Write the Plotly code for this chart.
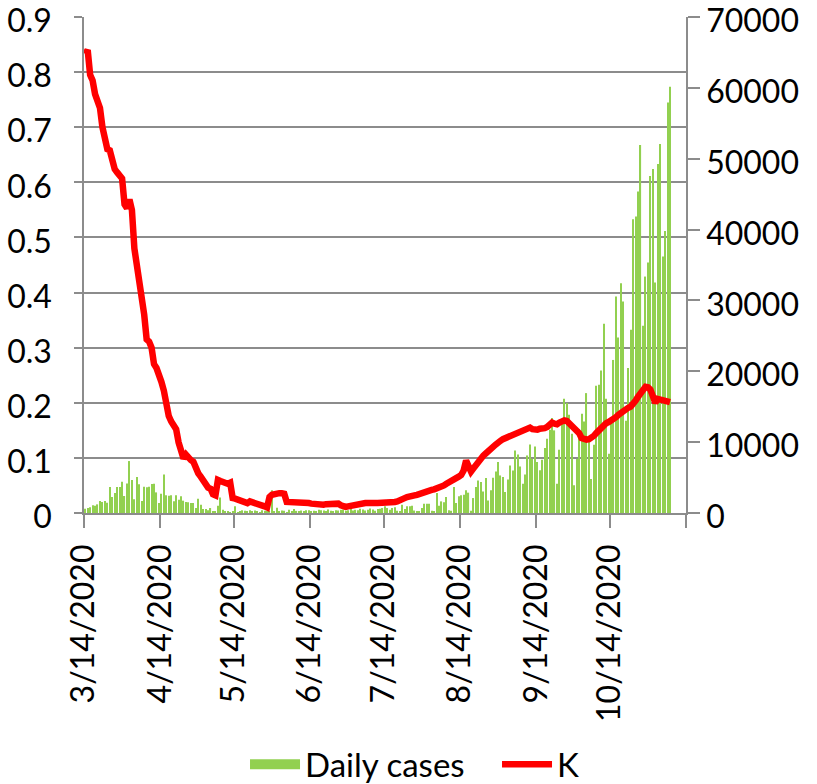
import pandas as pd
import plotly.graph_objects as go

start_date = "2020-03-14"

daily_cases = [
    610, 700, 800, 1080, 1030, 1220, 1700, 1550, 1700, 1460,
    3670, 2260, 2820, 3670, 3670, 4420, 2400, 4180, 7330, 4650,
    1930, 5080, 4040, 1700, 3710, 3620, 3710, 4090, 4140, 2910,
    1410, 2730, 5450,
    2500, 2450, 2500, 1650, 2500, 1880, 2350, 1740, 1550, 1500,
    1410, 1410, 700, 2020, 1180, 560, 560, 380, 700, 240,
    240, 1030, 2200, 470, 240, 240, 140, 240, 940, 140,
    240, 380,
    300, 150, 400, 250, 350, 200, 100, 400, 300, 250,
    150, 3200, 150, 750, 200, 350, 300, 100, 470, 250,
    560, 300, 200, 350, 150, 400, 380, 250, 300, 150,
    450, 400, 350, 200, 500, 300, 250, 400, 350, 450,
    500, 300, 400, 550, 350, 450, 400, 600, 500, 350,
    450, 650, 500, 300, 550, 600, 700,
    940, 700, 470, 700, 800, 300, 250, 1170, 560, 940,
    940, 1030, 350, 250, 200, 700, 1310, 1310, 1310, 300,
    250, 2820, 1030, 1640, 1500, 2250, 400, 300, 3670, 1400,
    2350, 2490, 2580, 3200, 2870, 300, 2110, 3660, 4600, 4370,
    3050, 4930, 1780, 3200, 4980, 5870, 7180, 5300, 5070, 2960,
    4740, 6710, 6010, 8830, 8260, 6570, 4130, 5450, 8120, 9670,
    7650, 9400, 7190,
    6020, 7500, 9170, 10480, 11750, 13400, 11660, 4140, 8930, 12930,
    16120, 15510, 13870, 11190, 3900, 7610, 11840, 14000, 12930, 16920,
    10200, 4800, 9640, 17950, 18100, 20120, 26700, 16120, 8370, 13160,
    21600, 30550, 24770, 32430, 29850, 13020, 20450, 25850, 41450, 41830,
    45360, 51940, 26410, 33370, 35340, 47560, 48550, 32520, 49260, 52080,
    36190, 39810, 57950, 60160,
]

k_values = [
    0.833, 0.840, 0.795, 0.785, 0.760, 0.745, 0.735, 0.700, 0.680, 0.660,
    0.658, 0.640, 0.624, 0.618, 0.614, 0.607, 0.560, 0.553, 0.569, 0.550,
    0.480, 0.450, 0.428, 0.405, 0.360, 0.315, 0.311, 0.300, 0.270, 0.263,
    0.252, 0.238, 0.222, 0.190, 0.176, 0.166, 0.158, 0.152, 0.128, 0.115,
    0.099, 0.106, 0.100, 0.096, 0.093, 0.080, 0.072, 0.066, 0.058, 0.049,
    0.046, 0.044, 0.034, 0.032, 0.060, 0.058, 0.056, 0.054, 0.053, 0.055,
    0.027, 0.026, 0.025, 0.024, 0.023, 0.020, 0.018, 0.021, 0.020, 0.017,
    0.016, 0.015, 0.013, 0.012, 0.010, 0.029, 0.033, 0.035, 0.036, 0.036,
    0.036, 0.035, 0.020, 0.020, 0.020, 0.020, 0.020, 0.019, 0.019, 0.018,
    0.018, 0.018, 0.017, 0.016, 0.016, 0.016, 0.015, 0.015, 0.016, 0.016,
    0.017, 0.017, 0.018, 0.017, 0.014, 0.012, 0.011, 0.012, 0.013, 0.013,
    0.016, 0.018, 0.018, 0.018, 0.018, 0.018, 0.017, 0.017, 0.018, 0.018,
    0.018, 0.018, 0.019, 0.019, 0.018, 0.019, 0.020, 0.021, 0.022, 0.025,
    0.027, 0.029, 0.031, 0.032, 0.032, 0.033, 0.035, 0.036, 0.038, 0.039,
    0.041, 0.042, 0.043, 0.044, 0.045, 0.047, 0.050, 0.053, 0.055, 0.058,
    0.060, 0.063, 0.066, 0.069, 0.077, 0.095, 0.080, 0.075, 0.081, 0.088,
    0.095, 0.099, 0.104, 0.108, 0.111, 0.115, 0.120, 0.124, 0.129, 0.131,
    0.134, 0.136, 0.138, 0.140, 0.141, 0.144, 0.147, 0.149, 0.151, 0.152,
    0.154, 0.155, 0.152, 0.150, 0.151, 0.153, 0.152, 0.154, 0.156, 0.160,
    0.164, 0.162, 0.161, 0.164, 0.167, 0.168, 0.167, 0.163, 0.159, 0.155,
    0.151, 0.145, 0.136, 0.133, 0.133, 0.134, 0.136, 0.140, 0.145, 0.150,
    0.157, 0.161, 0.163, 0.165, 0.167, 0.170, 0.174, 0.178, 0.182, 0.186,
    0.189, 0.191, 0.193, 0.197, 0.204, 0.211, 0.219, 0.226, 0.229, 0.228,
    0.224, 0.212, 0.200, 0.207, 0.206, 0.205, 0.203, 0.202, 0.201,
]

tick_labels = ["3/14/2020", "4/14/2020", "5/14/2020", "6/14/2020",
               "7/14/2020", "8/14/2020", "9/14/2020", "10/14/2020", ""]
tick_dates = ["2020-03-14", "2020-04-14", "2020-05-14", "2020-06-14",
              "2020-07-14", "2020-08-14", "2020-09-14", "2020-10-14", "2020-11-14"]

dates = pd.date_range(start_date, periods=len(daily_cases), freq="D")
half_day = pd.Timedelta(hours=12)
tick_pos = [pd.Timestamp(t) - half_day for t in tick_dates]

FONT = "Lato, Carlito, 'Open Sans', sans-serif"
GRID = "#8c8c8c"
GREEN = "#92D050"

fig = go.Figure()
fig.add_trace(go.Bar(
    x=dates, y=daily_cases, name="Daily cases",
    marker=dict(color=GREEN, line=dict(width=0)),
    yaxis="y", legendgroup="cases", showlegend=False,
))
# legend entry for the bars, drawn as a wide green swatch like the reference
fig.add_trace(go.Scatter(
    x=[None], y=[None], name="Daily cases", mode="lines",
    line=dict(color=GREEN, width=20),
    yaxis="y", legendgroup="cases", showlegend=True, hoverinfo="skip",
))
fig.add_trace(go.Scatter(
    x=dates, y=k_values, name="K", mode="lines",
    line=dict(color="#FF0000", width=6.5),
    yaxis="y2",
))

fig.update_layout(
    width=817, height=784,
    margin=dict(l=84, r=131, t=17, b=270.5, autoexpand=False),
    paper_bgcolor="white", plot_bgcolor="white",
    font=dict(family=FONT, size=32, color="black"),
    bargap=0.55,
    showlegend=True,
    legend=dict(orientation="h", xref="container", x=0.2999, xanchor="left",
                yref="container", y=0.025, yanchor="middle",
                font=dict(size=33), tracegroupgap=0, itemwidth=50,
                entrywidthmode="pixels", entrywidth=187),
    xaxis=dict(
        type="date", automargin=False,
        range=[tick_pos[0], tick_pos[-1]],
        tickmode="array", tickvals=tick_pos, ticktext=tick_labels,
        tickangle=-90,
        showgrid=False, showline=True, linecolor=GRID, linewidth=1.5,
        ticks="outside", ticklen=13, tickcolor=GRID, tickwidth=1.5,
        zeroline=False, ticklabelstandoff=4,
    ),
    yaxis=dict(
        side="right", automargin=False, range=[0, 70000.01], dtick=10000,
        tickformat="d",
        showgrid=False, showline=True, linecolor=GRID, linewidth=1.5,
        ticks="outside", ticklen=12, tickcolor=GRID, tickwidth=1.5,
        zeroline=False, ticklabeloverflow="allow", ticklabelshift=4,
    ),
    yaxis2=dict(
        side="left", overlaying="y", automargin=False,
        range=[0, 0.9000001], dtick=0.1,
        showgrid=True, gridcolor=GRID, gridwidth=1.5,
        showline=True, linecolor=GRID, linewidth=1.5,
        ticks="outside", ticklen=8, tickcolor=GRID, tickwidth=1.5,
        zeroline=False, ticklabelstandoff=16, ticklabeloverflow="allow",
        ticklabelshift=4,
    ),
)

# remove the page's default 8px body margin so the figure fills the window
fig.write_html("out.html", config={"displayModeBar": False},
               post_script="document.body.style.margin='0';")
